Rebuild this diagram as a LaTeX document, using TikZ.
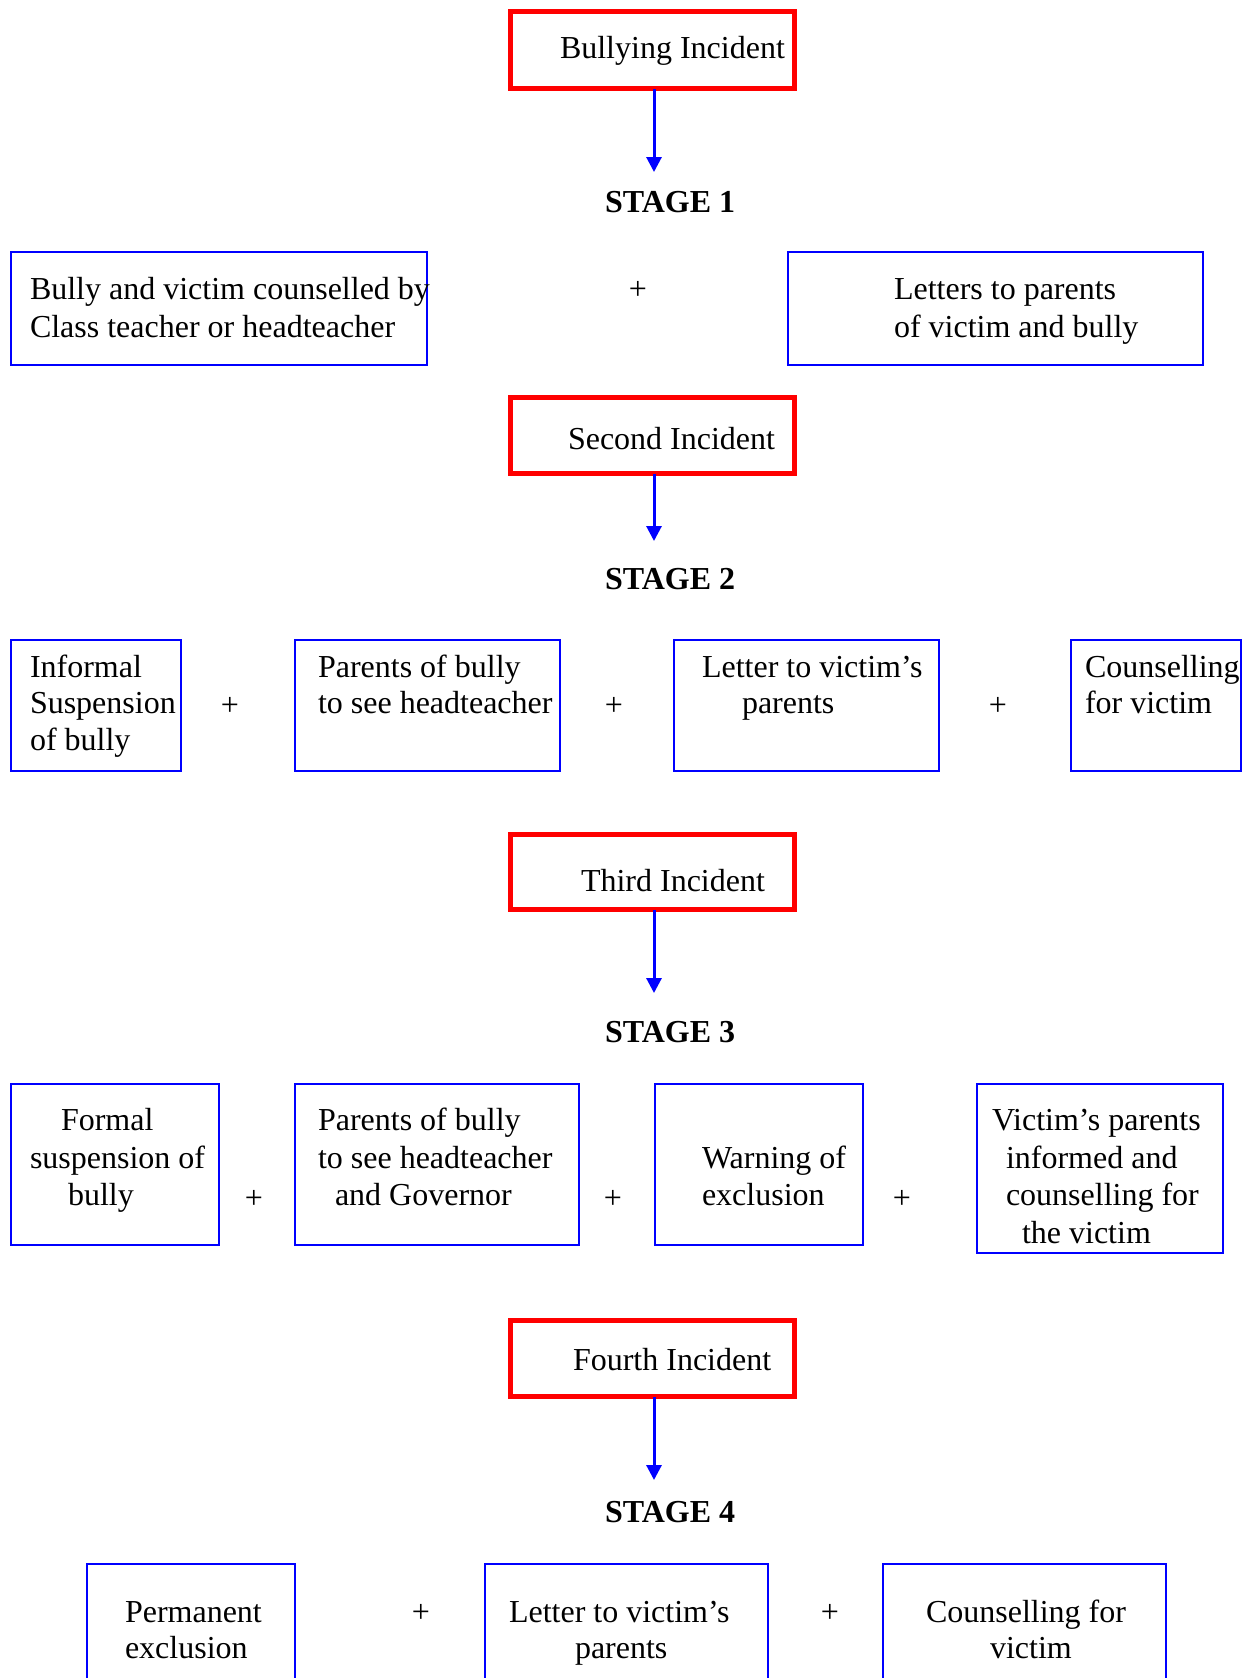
\documentclass[tikz,border=0pt]{standalone}
\usepackage{fontspec}
\setmainfont{Liberation Serif}
\usetikzlibrary{arrows.meta}
\tikzset{
  bbox/.style={draw={rgb,255:red,0;green,0;blue,255}, line width=2pt, inner sep=0pt, outer sep=0pt},
  rbox/.style={draw={rgb,255:red,255;green,0;blue,0}, line width=5pt, inner sep=0pt, outer sep=0pt},
  txt/.style={inner sep=0pt, outer sep=0pt, anchor=base west, font=\fontsize{32}{38}\selectfont},
  stagetxt/.style={txt, font=\fontsize{32}{38}\selectfont\bfseries},
  plus/.style={inner sep=0pt, outer sep=0pt, anchor=base, font=\fontsize{32}{38}\selectfont},
  arr/.style={draw={rgb,255:red,0;green,0;blue,255}, line width=3pt, -{Triangle[width=15pt,length=15pt]}}
}
\newcommand{\mkbox}[6]{\node[#1, anchor=north west, minimum width={(#5-#3)*1pt}, minimum height={(#6-#4)*1pt}] (#2) at (#3,#4) {};}
\newcommand{\tl}[4]{\node[txt] (#1) at (#2,#3) {#4};}
\newcommand{\pl}[3]{\node[plus] (#1) at (#2,#3) {+};}
\begin{document}
\begin{tikzpicture}[x=1pt,y=-1pt]
\useasboundingbox (0,0) rectangle (1251,1678);
\clip (0,0) rectangle (1251,1678);
\fill[white] (0,0) rectangle (1251,1678);

% ---------- Stage 1 ----------
\mkbox{rbox}{inc1}{510.5}{11.5}{794.5}{88.5}
\tl{inc1t}{560}{59}{Bullying Incident}
\coordinate (a1) at (654,172);
\draw[arr] (a1 |- inc1.south) -- (a1);
\node[stagetxt] (st1) at (605,212) {STAGE 1};

\mkbox{bbox}{b1a}{11}{252}{427}{365}
\tl{b1a1}{30}{299}{Bully and victim counselled by}
\tl{b1a2}{30}{337}{Class teacher or headteacher}
\pl{p11}{638}{299}
\mkbox{bbox}{b1b}{788}{252}{1203}{365}
\tl{b1b1}{894}{299}{Letters to parents}
\tl{b1b2}{894}{337}{of victim and bully}

% ---------- Stage 2 ----------
\mkbox{rbox}{inc2}{510.5}{397.5}{794.5}{473.5}
\tl{inc2t}{568}{449}{Second Incident}
\coordinate (a2) at (654,541);
\draw[arr] (a2 |- inc2.south) -- (a2);
\node[stagetxt] (st2) at (605,589) {STAGE 2};

\mkbox{bbox}{b2a}{11}{640}{181}{771}
\tl{b2a1}{30}{677}{Informal}
\tl{b2a2}{30}{713}{Suspension}
\tl{b2a3}{30}{750}{of bully}
\pl{p21}{230}{715}
\mkbox{bbox}{b2b}{295}{640}{560}{771}
\tl{b2b1}{318}{677}{Parents of bully}
\tl{b2b2}{318}{713}{to see headteacher}
\pl{p22}{614}{715}
\mkbox{bbox}{b2c}{674}{640}{939}{771}
\tl{b2c1}{702}{677}{Letter to victim’s}
\tl{b2c2}{742}{713}{parents}
\pl{p23}{998}{715}
\mkbox{bbox}{b2d}{1071}{640}{1241}{771}
\tl{b2d1}{1085}{677}{Counselling}
\tl{b2d2}{1085}{713}{for victim}

% ---------- Stage 3 ----------
\mkbox{rbox}{inc3}{510.5}{834.5}{794.5}{909.5}
\tl{inc3t}{581}{891}{Third Incident}
\coordinate (a3) at (654,993);
\draw[arr] (a3 |- inc3.south) -- (a3);
\node[stagetxt] (st3) at (605,1042) {STAGE 3};

\mkbox{bbox}{b3a}{11}{1084}{219}{1245}
\tl{b3a1}{61}{1130}{Formal}
\tl{b3a2}{30}{1168}{suspension of}
\tl{b3a3}{68}{1205}{bully}
\pl{p31}{254}{1208}
\mkbox{bbox}{b3b}{295}{1084}{579}{1245}
\tl{b3b1}{318}{1130}{Parents of bully}
\tl{b3b2}{318}{1168}{to see headteacher}
\tl{b3b3}{335}{1205}{and Governor}
\pl{p32}{613}{1208}
\mkbox{bbox}{b3c}{655}{1084}{863}{1245}
\tl{b3c1}{702}{1168}{Warning of}
\tl{b3c2}{702}{1205}{exclusion}
\pl{p33}{902}{1208}
\mkbox{bbox}{b3d}{977}{1084}{1223}{1253}
\tl{b3d1}{992}{1130}{Victim’s parents}
\tl{b3d2}{1006}{1168}{informed and}
\tl{b3d3}{1006}{1205}{counselling for}
\tl{b3d4}{1022}{1243}{the victim}

% ---------- Stage 4 ----------
\mkbox{rbox}{inc4}{510.5}{1320.5}{794.5}{1396.5}
\tl{inc4t}{573}{1370}{Fourth Incident}
\coordinate (a4) at (654,1480);
\draw[arr] (a4 |- inc4.south) -- (a4);
\node[stagetxt] (st4) at (605,1522) {STAGE 4};

\mkbox{bbox}{b4a}{87}{1564}{295}{1720}
\tl{b4a1}{125}{1622}{Permanent}
\tl{b4a2}{125}{1658}{exclusion}
\pl{p41}{421}{1622}
\mkbox{bbox}{b4b}{485}{1564}{768}{1720}
\tl{b4b1}{509}{1622}{Letter to victim’s}
\tl{b4b2}{575}{1658}{parents}
\pl{p42}{830}{1622}
\mkbox{bbox}{b4c}{883}{1564}{1166}{1720}
\tl{b4c1}{926}{1622}{Counselling for}
\tl{b4c2}{990}{1658}{victim}
\end{tikzpicture}
\end{document}
